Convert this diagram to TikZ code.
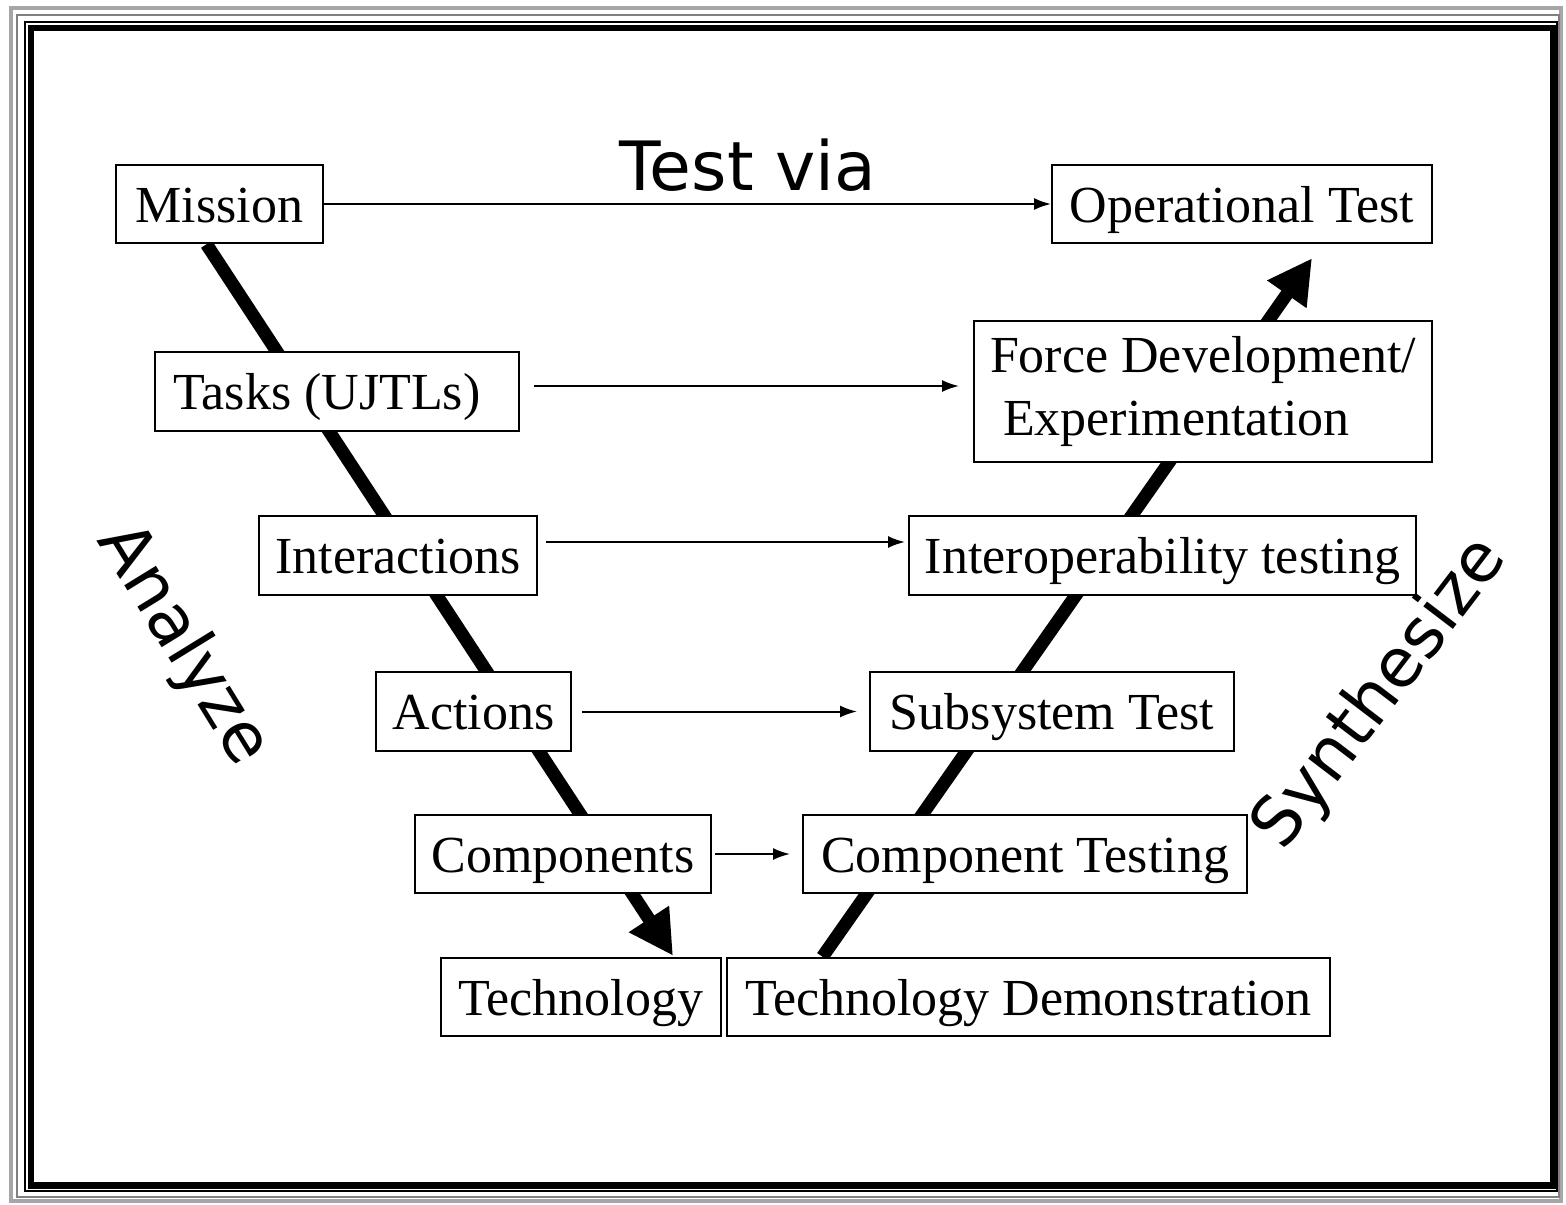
\documentclass[tikz,border=0pt]{standalone}
\usepackage{fontspec}
\setmainfont{Liberation Serif}
\newfontfamily\vsans{DejaVu Sans}
\usepackage{tikz}
\usetikzlibrary{arrows.meta,calc,backgrounds}

\tikzset{
  stage/.style={draw, fill=white, line width=1pt, inner sep=0pt, font=\fontsize{26}{31.5}\selectfont},
  stageone/.style={stage, text height=22pt, text depth=4pt, minimum height=39.25pt},
  flow/.style={-{Latex[length=8.5pt,width=6pt]}, line width=1pt},
  vleg/.style={-{Triangle[length=22pt,width=22.5pt]}, line width=6.5pt},
  bigword/.style={font=\vsans\fontsize{34}{40}\selectfont}
}

\begin{document}
\begin{tikzpicture}[x=0.5pt,y=-0.5pt]
\useasboundingbox (0,0) rectangle (1566,1204);
% frame
\draw[gray!70, line width=2pt] (11,8) rectangle (1561,1201);
\draw[gray, line width=0.6pt] (17,15) rectangle (1559,1197);
\draw[black, line width=0.75pt] (25,22) rectangle (1557,1191);
\draw[black, line width=3.25pt] (31,28) rectangle (1553,1185.5);

\foreach \nm/\x/\y/\w/\txt in {mission/219.5/204/103.5/Mission,
    optest/1242/204/190/Operational Test,
    tasks/337/391.5/182/Tasks (UJTLs)\kern10pt,
    inter/398/555.5/139/Interactions,
    interop/1162.5/555.5/253.5/Interoperability testing,
    actions/473.5/711.5/97.5/Actions,
    subsys/1052/711.5/182/Subsystem Test,
    comps/563/854/148/Components,
    comptest/1025/854/222/Component Testing,
    tech/581/997/140/Technology,
    demo/1028.5/997/301.5/Technology Demonstration}
  \node[stageone, minimum width=\w pt] (\nm) at (\x,\y) {\txt};
\node[stage, align=left, minimum width=229pt, minimum height=70.5pt] (force) at (1203,391.5)
  {Force Development/\\\hspace*{0.25em}Experimentation};

% the V
\begin{scope}[on background layer]
\draw[vleg] ($(mission.south)+(-13,0)$) -- ($(tech.north)+(92,-1)$);
\draw[vleg] ($(demo.north)+(-206,0)$) -- ($(optest.south)+(70,14)$);
\end{scope}

\foreach \a/\b/\dy/\s/\e in {mission/optest/0/0/0, tasks/force/2.75/7/7,
    inter/interop/6.75/4/1.5, actions/subsys/0/5/6, comps/comptest/0/1.5/6}
  \draw[flow, shorten <=\s pt, shorten >=\e pt] ([yshift=\dy pt]\a.east) -- ([yshift=\dy pt]\b.west);

\node[bigword, anchor=base] (testvia) at (748,190) {Test via};
\node[bigword, rotate=-58.4] (analyze) at (183,645) {Analyze};
\node[bigword, rotate=52.7] (synth) at (1381,694) {Synthesize};
\end{tikzpicture}
\end{document}
